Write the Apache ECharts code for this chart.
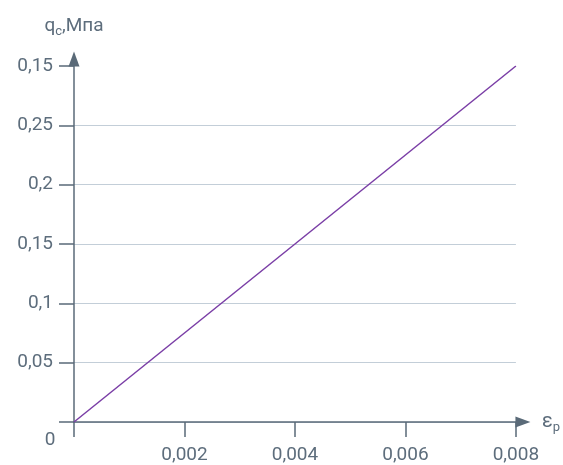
<!DOCTYPE html>
<html>
<head>
<meta charset="utf-8">
<script src="https://cdn.jsdelivr.net/npm/echarts@6/dist/echarts.min.js"></script>
<style>
  html, body { margin: 0; padding: 0; background: #ffffff; }
  #chart { width: 563px; height: 465px; }
</style>
</head>
<body>
<div id="chart"></div>
<script>
// Strain values (εp) and resulting stress (qc, MPa)
const strain = [0, 0.008];
const stress = [0, 0.3];

// Axis tick labels as printed on the plot
const xTickLabels = ['', '0,002', '0,004', '0,006', '0,008'];
const yTickLabels = ['', '0,05', '0,1', '0,15', '0,2', '0,25', '0,15'];

const axisColor = '#5a6a78';
const textColor = '#5d6d7c';
const gridColor = '#c3ced8';
const lineColor = '#7a3ea6';
const fontFamily = 'Roboto, "DejaVu Sans", sans-serif';

const chart = echarts.init(document.getElementById('chart'), null, { renderer: 'canvas' });

chart.setOption({
  animation: false,
  textStyle: { fontFamily: fontFamily },
  grid: { left: 74, right: 41, top: 66, bottom: 42, containLabel: false },
  xAxis: {
    type: 'value',
    min: 0, max: 0.008, interval: 0.002,
    name: '{m|ε}{s|p}',
    nameLocation: 'end',
    nameGap: 26,
    nameTextStyle: {
      rich: {
        m: { fontSize: 20, color: textColor, fontFamily: fontFamily },
        s: { fontSize: 13, color: textColor, fontFamily: fontFamily, padding: [12, 0, 0, 0] }
      }
    },
    axisLine: {
      show: true,
      lineStyle: { color: axisColor, width: 1.5 },
      symbol: ['none', 'triangle'],
      symbolSize: [11, 15],
      symbolOffset: [0, 7]
    },
    axisTick: { show: true, length: 15, inside: false, lineStyle: { color: axisColor, width: 1.5 } },
    axisLabel: {
      margin: 24,
      fontSize: 19,
      color: textColor,
      formatter: function (v) {
        const i = Math.round(v / 0.002);
        return xTickLabels[i] !== undefined ? xTickLabels[i] : '';
      }
    },
    splitLine: { show: false }
  },
  yAxis: {
    type: 'value',
    min: 0, max: 0.3, interval: 0.05,
    name: '{m|q}{s|c}{m|,Мпа}',
    nameLocation: 'end',
    nameGap: 28,
    nameTextStyle: {
      align: 'center',
      rich: {
        m: { fontSize: 19, color: textColor, fontFamily: fontFamily },
        s: { fontSize: 13, color: textColor, fontFamily: fontFamily, padding: [10, 0, 0, 0] }
      }
    },
    axisLine: {
      show: true,
      lineStyle: { color: axisColor, width: 1.5 },
      symbol: ['none', 'triangle'],
      symbolSize: [11, 15],
      symbolOffset: [0, 7]
    },
    axisTick: { show: true, length: 15, inside: false, lineStyle: { color: axisColor, width: 1.5 } },
    axisLabel: {
      margin: 21,
      fontSize: 19,
      color: textColor,
      formatter: function (v) {
        const i = Math.round(v / 0.05);
        return yTickLabels[i] !== undefined ? yTickLabels[i] : '';
      }
    },
    splitLine: {
      show: true,
      showMaxLine: false,
      lineStyle: { color: gridColor, width: 1.2 }
    }
  },
  series: [{
    type: 'line',
    data: strain.map((x, i) => [x, stress[i]]),
    symbol: 'none',
    lineStyle: { color: lineColor, width: 1.5 },
    z: 3
  }]
});

// Shared origin label placed below-left of the axis crossing
const origin = chart.convertToPixel({ gridIndex: 0 }, [0, 0]);
chart.setOption({
  graphic: [{
    type: 'text',
    x: origin[0] - 24,
    y: origin[1] + 18,
    style: { text: '0', font: '19px ' + fontFamily, fill: textColor, align: 'center', verticalAlign: 'middle' }
  }]
});
</script>
</body>
</html>
